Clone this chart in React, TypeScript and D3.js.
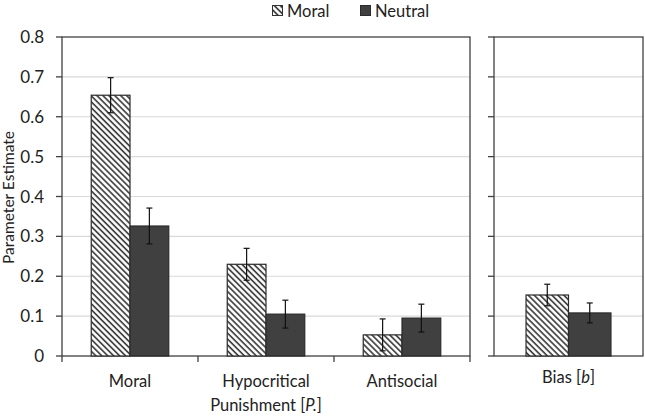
import React from "react";
import * as d3 from "d3";

const categories = ["Moral", "Hypocritical", "Antisocial"];
const series = ["Moral", "Neutral"];
const moralValues = [0.654, 0.23, 0.053];
const moralErrors = [0.044, 0.04, 0.04];
const neutralValues = [0.326, 0.105, 0.095];
const neutralErrors = [0.045, 0.035, 0.035];
const biasCategory = ["Bias"];
const biasValues = [0.153, 0.108];
const biasErrors = [0.027, 0.025];
const yTicks = [0, 0.1, 0.2, 0.3, 0.4, 0.5, 0.6, 0.7, 0.8];

const W = 645;
const H = 416;
const top = 37;
const bottom = 356;
const L1 = 62;
const R1 = 470;
const L2 = 494;
const R2 = 643;
const axisColor = "#404040";
const gridColor = "#d9d9d9";
const font = "Lato, 'Open Sans', sans-serif";

export default function App() {
  const y = d3.scaleLinear().domain([0, 0.8]).range([bottom, top]);
  const x1 = d3.scaleBand().domain(categories).range([L1, R1]).paddingInner(0.43).paddingOuter(0.215);
  const s1 = d3.scaleBand().domain(series).range([0, x1.bandwidth()]);
  const x2 = d3.scaleBand().domain(biasCategory).range([L2, R2]).paddingInner(0.43).paddingOuter(0.215);
  const s2 = d3.scaleBand().domain(series).range([0, x2.bandwidth()]);

  const bar = (x: number, w: number, v: number, e: number, fill: string, key: string) => {
    const cx = x + w / 2;
    return (
      <g key={key}>
        <rect x={x} y={y(v)} width={w} height={bottom - y(v)} fill={fill} stroke="#2b2b2b" strokeWidth={1.2} />
        <line x1={cx} x2={cx} y1={y(v + e)} y2={y(v - e)} stroke="#111" strokeWidth={1.2} />
        <line x1={cx - 3} x2={cx + 3} y1={y(v + e)} y2={y(v + e)} stroke="#111" strokeWidth={1.2} />
        <line x1={cx - 3} x2={cx + 3} y1={y(v - e)} y2={y(v - e)} stroke="#111" strokeWidth={1.2} />
      </g>
    );
  };

  const panelFrame = (L: number, R: number, key: string) => (
    <g key={key}>
      {yTicks.slice(1, -1).map((t) => (
        <line key={t} x1={L} x2={R} y1={y(t)} y2={y(t)} stroke={gridColor} strokeWidth={1.2} />
      ))}
      {yTicks.map((t) => (
        <line key={"tk" + t} x1={L - 6} x2={L} y1={y(t)} y2={y(t)} stroke={axisColor} strokeWidth={1.3} />
      ))}
      <rect x={L} y={top} width={R - L} height={bottom - top} fill="none" stroke={axisColor} strokeWidth={1.3} />
    </g>
  );

  return (
    <svg width={W} height={H} style={{ position: "absolute", left: 0, top: 0, background: "#fff" }} fontFamily={font}>
      <defs>
        <pattern id="hatch" patternUnits="userSpaceOnUse" width={4.2} height={4.2} patternTransform="rotate(-45)">
          <rect width={4.2} height={4.2} fill="#fff" />
          <line x1={1} x2={1} y1={0} y2={4.2} stroke="#333" strokeWidth={1.6} />
        </pattern>
      </defs>

      {/* Legend */}
      <rect x={272.5} y={5.5} width={10} height={10} fill="url(#hatch)" stroke="#333" strokeWidth={1} />
      <text x={287} y={16.5} fontSize={16.5} fill="#222">Moral</text>
      <rect x={360.5} y={5.5} width={10} height={10} fill="#404040" stroke="#2b2b2b" strokeWidth={1} />
      <text x={375} y={16.5} fontSize={16.5} fill="#222">Neutral</text>

      {panelFrame(L1, R1, "p1")}
      {panelFrame(L2, R2, "p2")}

      {/* category ticks below axis for left panel */}
      {[L1, ...categories.slice(1).map((c) => x1(c)! - (x1.step() - x1.bandwidth()) / 2), R1].map((xv, i) => (
        <line key={"ct" + i} x1={xv} x2={xv} y1={bottom} y2={bottom + 6} stroke={axisColor} strokeWidth={1.3} />
      ))}

      {categories.map((c, i) => (
        <g key={c}>
          {bar(x1(c)! + s1("Moral")!, s1.bandwidth(), moralValues[i], moralErrors[i], "url(#hatch)", c + "m")}
          {bar(x1(c)! + s1("Neutral")!, s1.bandwidth(), neutralValues[i], neutralErrors[i], "#404040", c + "n")}
        </g>
      ))}
      {bar(x2("Bias")! + s2("Moral")!, s2.bandwidth(), biasValues[0], biasErrors[0], "url(#hatch)", "bm")}
      {bar(x2("Bias")! + s2("Neutral")!, s2.bandwidth(), biasValues[1], biasErrors[1], "#404040", "bn")}

      {/* y tick labels */}
      {yTicks.map((t) => (
        <text key={"yl" + t} x={44} y={y(t) + 6} fontSize={17} textAnchor="end" fill="#222">
          {t === 0 ? "0" : t.toFixed(1)}
        </text>
      ))}

      {/* category labels */}
      {categories.map((c) => (
        <text key={"cl" + c} x={x1(c)! + x1.bandwidth() / 2} y={387} fontSize={16.5} textAnchor="middle" fill="#222">
          {c}
        </text>
      ))}
      <text x={x2("Bias")! + x2.bandwidth() / 2} y={383} fontSize={16.5} textAnchor="middle" fill="#222">
        Bias [<tspan fontStyle="italic">b</tspan>]
      </text>
      <text x={266} y={411} fontSize={16.5} textAnchor="middle" fill="#222">
        Punishment [<tspan fontStyle="italic">P.</tspan>]
      </text>

      {/* y axis title */}
      <text transform={`translate(14, ${(top + bottom) / 2 + 1}) rotate(-90)`} fontSize={15.5} textAnchor="middle" fill="#222">
        Parameter Estimate
      </text>
    </svg>
  );
}
